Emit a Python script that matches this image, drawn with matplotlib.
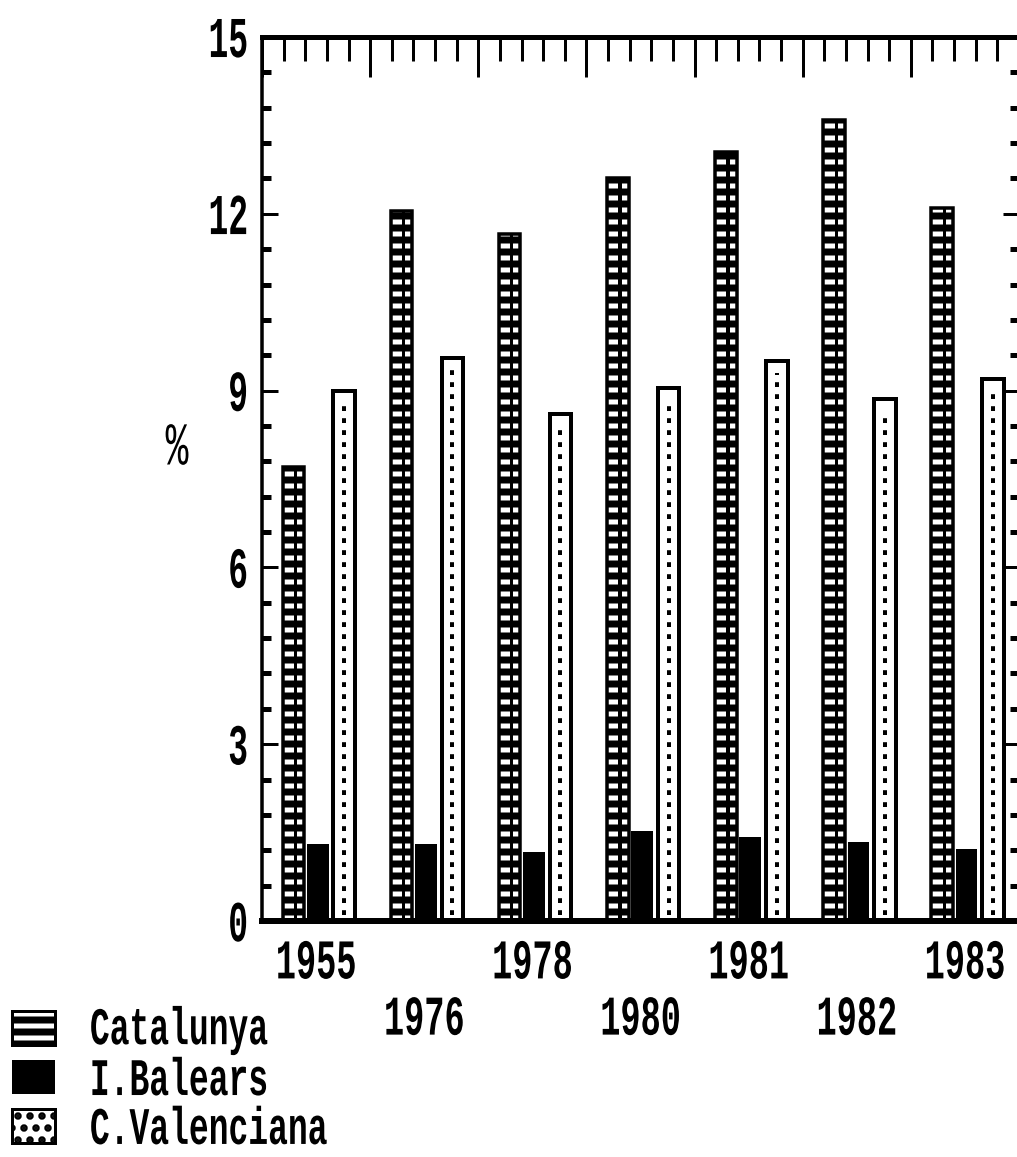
import numpy as np
import matplotlib
matplotlib.use("Agg")
import matplotlib.pyplot as plt
import matplotlib.patches as mpatches
from matplotlib.patheffects import AbstractPathEffect
from matplotlib.transforms import Affine2D

years = ['1955', '1976', '1978', '1980', '1981', '1982', '1983']
catalunya = [7.7, 12.05, 11.65, 12.6, 13.05, 13.6, 12.1]
balears = [1.3, 1.3, 1.17, 1.53, 1.43, 1.34, 1.22]
valenciana = [9.0, 9.55, 8.6, 9.05, 9.5, 8.85, 9.2]
series_names = ['Catalunya', 'I.Balears', 'C.Valenciana']


class Tall(AbstractPathEffect):
    """Stretch glyphs vertically about their middle, like the plotter's tall lettering."""

    def __init__(self, sy=1.6):
        super().__init__()
        self.sy = sy

    def draw_path(self, renderer, gc, tpath, affine, rgbFace=None):
        ext = tpath.get_extents()
        cy = (ext.y0 + ext.y1) / 2
        stretch = Affine2D().translate(0, -cy).scale(1, self.sy).translate(0, cy)
        renderer.draw_path(gc, tpath, stretch + affine, rgbFace)


plt.rcParams['font.family'] = ['Liberation Mono', 'DejaVu Sans Mono']
plt.rcParams['font.weight'] = 'bold'
plt.rcParams['hatch.linewidth'] = 5

# dpi 72 so that points == pixels and hatch spacing is 12 px
fig = plt.figure(figsize=(1017 / 72, 1157 / 72), dpi=72)
ax = fig.add_axes([262 / 1017, 1 - 921 / 1157, (1019 - 262) / 1017, (921 - 37) / 1157])

x = np.arange(len(years))
w = 0.2
x_cat = x + 0.29
x_bal = x + 0.515
x_val = x + 0.76

# Catalunya: black with white horizontal slots
ax.bar(x_cat, catalunya, w, color='black', edgecolor='white', hatch='-', linewidth=0)
ax.bar(x_cat + 0.02, catalunya, 0.03, color='black', linewidth=0)
ax.bar(x_cat, catalunya, w, fill=False, edgecolor='black', linewidth=3.5)

# I.Balears: solid black
ax.bar(x_bal, balears, w, color='black', linewidth=0)

# C.Valenciana: white with a dotted centre line
ax.bar(x_val, valenciana, w, facecolor='white', edgecolor='black', linewidth=4)
ax.vlines(x_val, 0.1, np.array(valenciana) - 0.2, colors='black', linewidth=4,
          linestyles=(0, (1.2, 1.8)))

ax.set_xlim(0, len(years))
ax.set_ylim(0, 15)

# bottom labels staggered on two rows
labels = [y if i % 2 == 0 else '\n' + y for i, y in enumerate(years)]
ax.set_xticks(x + 0.5)
ax.set_xticklabels(labels, fontsize=33.6, linespacing=2.05)
ax.tick_params(axis='x', length=0, pad=26)
for t in ax.get_xticklabels():
    t.set_path_effects([Tall(1.67)])

ax.set_yticks(range(0, 16, 3))
ax.set_yticks(np.arange(0, 15.01, 0.6), minor=True)
ax.tick_params(axis='y', which='both', direction='in', left=True, right=True, labelsize=33, pad=14)
ax.tick_params(axis='y', which='major', length=16, width=3)
ax.tick_params(axis='y', which='minor', length=9, width=5)
for t in ax.get_yticklabels():
    t.set_path_effects([Tall(1.75)])

ylab = ax.set_ylabel('%', rotation=0, fontsize=38, fontweight='normal', ha='center', va='center')
ylab.set_path_effects([Tall(1.6)])
ax.yaxis.set_label_coords((177 - 262) / 757, (921 - 447) / 884)

top = ax.secondary_xaxis('top')
top.set_xticks(range(len(years) + 1))
top.set_xticks(np.arange(0, len(years) + 0.01, 0.2), minor=True)
top.tick_params(which='both', direction='in', labeltop=False, width=3)
top.tick_params(which='major', length=40)
top.tick_params(which='minor', length=24)
top.spines['top'].set_linewidth(5)

ax.spines['left'].set_linewidth(3.5)
ax.spines['top'].set_linewidth(5)
ax.spines['bottom'].set_linewidth(6)
ax.spines['right'].set_linewidth(3)

handles = [
    (mpatches.Patch(facecolor='black', edgecolor='white', hatch='-', linewidth=0),
     mpatches.Patch(fill=False, edgecolor='black', linewidth=3)),
    mpatches.Patch(facecolor='black', linewidth=0),
    mpatches.Patch(facecolor='white', edgecolor='black', hatch='.', linewidth=3),
]
leg = fig.legend(handles, series_names, loc='upper left',
                 bbox_to_anchor=(12 / 1017, 1 - 1011 / 1157),
                 frameon=False, fontsize=33, handlelength=1.3, handleheight=1.2,
                 handletextpad=1.06, labelspacing=0.42, borderpad=0, borderaxespad=0)
for t in leg.get_texts():
    t.set_path_effects([Tall(1.6)])

fig.savefig('out.png', dpi=72)
